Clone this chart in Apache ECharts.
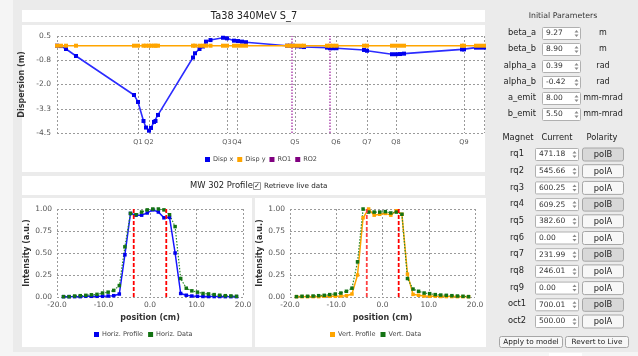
<!DOCTYPE html>
<html><head><meta charset="utf-8">
<script src="https://cdn.jsdelivr.net/npm/echarts@6/dist/echarts.min.js"></script>
<style>html,body{margin:0;padding:0;background:#f5f5f5;} #c{width:638px;height:356px;}</style>
</head><body><div id="c"></div>
<script>
// ---------- Dispersion chart data ----------
const elemPos = [0.0,0.4,0.9,1.9,7.7,8.1,8.65,8.9,9.2,9.4,9.7,9.85,10.1,13.6,13.8,14.25,14.6,14.9,15.35,16.6,17.0,17.7,18.1,18.5,18.9,23.0,23.3,23.6,24.0,24.4,24.7,27.0,27.3,27.6,27.95,30.7,31.0,33.5,33.9,34.3,34.7,40.5,40.7,41.9,42.3,42.7];
const dispX = [0.0,-0.02,-0.17,-0.53,-2.54,-2.90,-3.88,-4.22,-4.38,-4.24,-3.93,-3.88,-3.57,-0.61,-0.39,-0.17,-0.04,0.21,0.29,0.41,0.38,0.26,0.24,0.21,0.18,0.0,0.0,0.0,-0.03,-0.05,-0.07,-0.10,-0.13,-0.13,-0.13,-0.22,-0.26,-0.44,-0.44,-0.43,-0.41,-0.19,-0.19,-0.10,-0.10,-0.10];
const dispY = [0,0,0,0,0,0,0,0,0,0,0,0,0,0,0,0,0,0,0,0,0,0,0,0,0,0,0,0,0,0,0,0,0,0,0,0,0,0,0,0,0,0,0,0,0,0];
const quadNames = ['Q1','Q2','Q3','Q4','Q5','Q6','Q7','Q8','Q9'];
const quadPos = [8.1,9.2,17.0,18.0,23.8,27.9,31.0,33.9,40.7];
const ro1Pos = 23.5, ro2Pos = 27.3;
const dispTicks = [-4.5,-3.25,-2.0,-0.75,0.5];
const beamLen = 42.7;

// ---------- Profile data ----------
const profPos = [-18.6,-17.4,-16.2,-15.0,-13.8,-12.6,-11.4,-10.2,-9.0,-7.8,-6.6,-5.4,-4.2,-3.0,-1.8,-0.6,0.6,1.8,3.0,4.2,5.4,6.6,7.8,9.0,10.2,11.4,12.6,13.8,15.0,16.2,17.4,18.6];
const horizProfile = [0.004,0.004,0.004,0.004,0.008,0.008,0.008,0.008,0.011,0.015,0.034,0.48,0.95,0.93,0.93,0.955,0.99,0.966,0.90,0.905,0.50,0.04,0.02,0.011,0.008,0.006,0.005,0.005,0.005,0.004,0.004,0.004];
const horizData = [0.004,0.004,0.011,0.015,0.019,0.025,0.03,0.045,0.055,0.075,0.13,0.57,0.95,0.935,0.965,0.99,1.00,1.00,0.99,0.935,0.80,0.21,0.10,0.07,0.055,0.04,0.035,0.027,0.02,0.015,0.012,0.008];
const vertProfile = [0.004,0.004,0.004,0.004,0.004,0.008,0.008,0.008,0.011,0.015,0.034,0.25,0.90,1.00,0.93,0.94,0.95,0.93,0.98,0.94,0.26,0.03,0.02,0.011,0.008,0.008,0.006,0.005,0.005,0.004,0.004,0.004];
const vertData = [0.004,0.008,0.008,0.011,0.015,0.019,0.027,0.034,0.045,0.065,0.10,0.40,1.00,0.965,0.965,0.965,0.97,0.955,0.965,0.94,0.21,0.09,0.065,0.045,0.038,0.027,0.022,0.019,0.015,0.011,0.008,0.004];
const horizCuts = [-3.5,3.5];
const vertCuts = [-3.4,3.5];

// ---------- Panel text ----------
const paramNames = ['beta_a','beta_b','alpha_a','alpha_b','a_emit','b_emit'];
const paramValues = ['9.27','8.90','0.39','-0.42','8.00','5.50'];
const paramUnits = ['m','m','rad','rad','mm-mrad','mm-mrad'];
const magnetNames = ['rq1','rq2','rq3','rq4','rq5','rq6','rq7','rq8','rq9','oct1','oct2'];
const magnetCurrents = ['471.18','545.66','600.25','609.25','382.60','0.00','231.99','246.01','0.00','700.01','500.00'];
const magnetPolarity = ['polB','polA','polA','polB','polA','polA','polB','polA','polA','polB','polA'];

const FONT = 'DejaVu Sans';
const G = [];
function rect(x,y,w,h,fill,stroke,z,r){
  G.push({type:'rect', silent:true, z:(z==null?-10:z),
    shape:{x:x,y:y,width:w,height:h,r:r||0},
    style:{fill:fill, stroke:stroke||null, lineWidth:stroke?1:0}});
}
function text(x,y,t,size,o){
  o=o||{};
  G.push({type:'text', silent:true, z:5, x:x, y:y,
    style:{text:t, fontSize:size, fontFamily:FONT, fontWeight:o.bold?'bold':'normal',
      fill:o.color||'#222', align:o.align||'left', verticalAlign:'middle',
      textAlign:o.align||'left', textVerticalAlign:'middle'}});
}
function tri(cx,cy,up){
  const p = up ? [[cx-2,cy+1],[cx+2,cy+1],[cx,cy-1.5]] : [[cx-2,cy-1],[cx+2,cy-1],[cx,cy+1.5]];
  G.push({type:'polygon', silent:true, z:5, shape:{points:p}, style:{fill:'#8a8a8a'}});
}
function spin(x,y,w,h,val){
  rect(x+0.5,y+0.5,w,h,'#ffffff','#b0b0b0',-5,1);
  text(x+4,y+h/2+0.5,val,7.5,{color:'#333'});
  tri(x+w-3.5,y+h/2-1.5,true);
  tri(x+w-3.5,y+h/2+2.5,false);
}
function button(x,y,w,h,label,fill,size){
  rect(x+0.5,y+0.5,w,h,fill,'#a6a6a6',-5,2);
  text(x+w/2+0.5,y+h/2+1,label,size||8.5,{align:'center',color:'#222'});
}

// background & panels
rect(13,0,625,352,'#ebebeb',null,-20);
rect(22,10,463,12,'#ffffff',null,-15);
rect(22,25,463,147,'#ffffff',null,-15);
rect(22,176,463,19,'#ffffff',null,-15);
rect(22,198,230,149,'#ffffff',null,-15);
rect(255,198,231,149,'#ffffff',null,-15);
rect(549,353,33,3,'#ffffff',null,-15);
text(254,16.5,'Ta38 340MeV S_7',9.8,{align:'center',color:'#222'});
text(190,186,'MW 302 Profile',8.4,{color:'#222'});
rect(253.5,182.5,7,7,'#ffffff','#9a9a9a',-5);
text(257,186.5,'\u2713',7,{align:'center',color:'#222'});
text(264,186.5,'Retrieve live data',7.2,{color:'#222'});

// right panel
text(563,15.5,'Initial Parameters',7.8,{align:'center',color:'#333'});
const pRows=[33,49,66,82,98,114];
paramNames.forEach(function(n,i){
  const cy=pRows[i];
  text(536,cy,n,8.3,{align:'right',color:'#222'});
  spin(542,cy-6,38,12,paramValues[i]);
  text(603,cy,paramUnits[i],8,{align:'center',color:'#222'});
});
text(518,138,'Magnet',8.3,{align:'center',color:'#222'});
text(557,138,'Current',8.3,{align:'center',color:'#222'});
text(602,138,'Polarity',8.3,{align:'center',color:'#222'});
magnetNames.forEach(function(n,i){
  const cy=154+i*16.7;
  text(517,cy,n,8.3,{align:'center',color:'#222'});
  spin(535,cy-6,43,12,magnetCurrents[i]);
  button(582,cy-6.5,41,13,magnetPolarity[i], magnetPolarity[i]==='polB'?'#d8d8d8':'#f7f7f7', 8.3);
});
button(499,336,63,11,'Apply to model','#f7f7f7',7.3);
button(565,336,63,11,'Revert to Live','#f7f7f7',7.3);

// ---------- build series ----------
function pairs(xs,ys){ return xs.map(function(x,i){return [x,ys[i]];}); }
function vline(x,y0,y1){ return [[x,y0],[x,y1]]; }

const gridLine = {show:true, lineStyle:{color:'#9a9a9a', type:[2,2], width:1}};
const labelStyle = {color:'#555', fontSize:7.5, fontFamily:FONT};
const nameStyle = {color:'#333', fontSize:8, fontWeight:'bold', fontFamily:FONT};
const legendText = {fontSize:6.5, color:'#444', fontFamily:FONT, padding:[0,0,0,-2]};

const option = {
  animation:false,
  backgroundColor:'#f5f5f5',
  textStyle:{fontFamily:FONT},
  graphic:{elements:G},
  grid:[
    {left:57, top:36, width:427, height:97},
    {left:57, top:209, width:186, height:88},
    {left:290, top:209, width:185, height:88}
  ],
  xAxis:[
    {gridIndex:0, type:'value', min:0, max:beamLen,
      axisLine:{show:false},
      axisTick:{show:false, customValues:[0].concat(quadPos,[beamLen])},
      axisLabel:Object.assign({}, labelStyle, {customValues:quadPos, margin:6, fontSize:6.5, hideOverlap:false,
        formatter:function(v){
          for(let i=0;i<quadPos.length;i++){ if(Math.abs(v-quadPos[i])<1e-6) return quadNames[i]; }
          return ''; }}),
      splitLine:gridLine},
    {gridIndex:1, type:'value', min:-20, max:20, interval:10,
      axisLine:{show:false}, axisTick:{show:false},
      axisLabel:Object.assign({margin:4, formatter:function(v){return v.toFixed(1);}}, labelStyle),
      splitLine:gridLine,
      name:'position (cm)', nameLocation:'middle', nameGap:17, nameTextStyle:nameStyle},
    {gridIndex:2, type:'value', min:-20, max:20, interval:10,
      axisLine:{show:false}, axisTick:{show:false},
      axisLabel:Object.assign({margin:4, formatter:function(v){return v.toFixed(1);}}, labelStyle),
      splitLine:gridLine,
      name:'position (cm)', nameLocation:'middle', nameGap:17, nameTextStyle:nameStyle}
  ],
  yAxis:[
    {gridIndex:0, type:'value', min:-4.5, max:0.5,
      axisLine:{show:false},
      axisTick:{show:false, customValues:dispTicks},
      axisLabel:Object.assign({customValues:dispTicks, margin:6, formatter:function(v){return v.toFixed(1);}}, labelStyle),
      splitLine:gridLine,
      name:'Dispersion (m)', nameLocation:'middle', nameGap:24, nameTextStyle:nameStyle},
    {gridIndex:1, type:'value', min:0, max:1, interval:0.25,
      axisLine:{show:false}, axisTick:{show:false},
      axisLabel:Object.assign({margin:5, formatter:function(v){return v.toFixed(2);}}, labelStyle),
      splitLine:gridLine,
      name:'Intensity (a.u.)', nameLocation:'middle', nameGap:24, nameTextStyle:nameStyle},
    {gridIndex:2, type:'value', min:0, max:1, interval:0.25,
      axisLine:{show:false}, axisTick:{show:false},
      axisLabel:Object.assign({margin:5, formatter:function(v){return v.toFixed(2);}}, labelStyle),
      splitLine:gridLine,
      name:'Intensity (a.u.)', nameLocation:'middle', nameGap:22, nameTextStyle:nameStyle}
  ],
  legend:[
    {data:['Disp x','Disp y','RO1','RO2'], left:200, top:151, icon:'rect', itemWidth:5, itemHeight:5, itemGap:4, textStyle:legendText},
    {data:['Horiz. Profile','Horiz. Data'], left:89, top:326, icon:'rect', itemWidth:5, itemHeight:5, itemGap:5, textStyle:legendText},
    {data:['Vert. Profile','Vert. Data'], left:325, top:326, icon:'rect', itemWidth:5, itemHeight:5, itemGap:5, textStyle:legendText}
  ],
  series:[
    {name:'RO1', type:'line', xAxisIndex:0, yAxisIndex:0, data:vline(ro1Pos,-4.5,0.5), symbol:'none',
      color:'#800080', lineStyle:{color:'#9b1b9b', width:1.2, type:[1.5,1.5]}},
    {name:'RO2', type:'line', xAxisIndex:0, yAxisIndex:0, data:vline(ro2Pos,-4.5,0.5), symbol:'none',
      color:'#800080', lineStyle:{color:'#9b1b9b', width:1.2, type:[1.5,1.5]}},
    {name:'Disp x', type:'line', xAxisIndex:0, yAxisIndex:0, data:pairs(elemPos,dispX), z:3,
      symbol:'rect', symbolSize:4, color:'#0000ee', itemStyle:{color:'#0000ee'},
      lineStyle:{color:'#2c2cff', width:1.6}},
    {name:'Disp y', type:'line', xAxisIndex:0, yAxisIndex:0, data:pairs(elemPos,dispY), z:3,
      symbol:'rect', symbolSize:4, color:'#ffa500', itemStyle:{color:'#ffa500'},
      lineStyle:{color:'#ffa500', width:1.5}},

    {name:'Horiz. Profile', type:'line', xAxisIndex:1, yAxisIndex:1, data:pairs(profPos,horizProfile),
      symbol:'rect', symbolSize:3.5, color:'#0000ee', itemStyle:{color:'#0000ee'}, lineStyle:{color:'#1515ff', width:1.5}},
    {name:'Horiz. Data', type:'line', xAxisIndex:1, yAxisIndex:1, data:pairs(profPos,horizData),
      symbol:'rect', symbolSize:3.5, color:'#137313', itemStyle:{color:'#137313'}, lineStyle:{color:'#2a8a2a', width:1.2, type:[1.5,1.5]}},
    {name:'cutH1', type:'line', xAxisIndex:1, yAxisIndex:1, data:vline(horizCuts[0],0,1), symbol:'none',
      lineStyle:{color:'#ff0000', width:1.8, type:[4,2]}, z:5},
    {name:'cutH2', type:'line', xAxisIndex:1, yAxisIndex:1, data:vline(horizCuts[1],0,1), symbol:'none',
      lineStyle:{color:'#ff0000', width:1.8, type:[4,2]}, z:5},

    {name:'Vert. Profile', type:'line', xAxisIndex:2, yAxisIndex:2, data:pairs(profPos,vertProfile),
      symbol:'rect', symbolSize:3.5, color:'#ffa500', itemStyle:{color:'#ffa500'}, lineStyle:{color:'#ffa500', width:1.5}},
    {name:'Vert. Data', type:'line', xAxisIndex:2, yAxisIndex:2, data:pairs(profPos,vertData),
      symbol:'rect', symbolSize:3.5, color:'#137313', itemStyle:{color:'#137313'}, lineStyle:{color:'#2a8a2a', width:1.2, type:[1.5,1.5]}},
    {name:'cutV1', type:'line', xAxisIndex:2, yAxisIndex:2, data:vline(vertCuts[0],0,1), symbol:'none',
      lineStyle:{color:'#ff4040', width:1.8, type:[4,2]}, z:5},
    {name:'cutV2', type:'line', xAxisIndex:2, yAxisIndex:2, data:vline(vertCuts[1],0,1), symbol:'none',
      lineStyle:{color:'#ff0000', width:1.8, type:[4,2]}, z:5}
  ]
};
const chart = echarts.init(document.getElementById('c'), null, {renderer:'canvas'});
chart.setOption(option);
</script></body></html>
